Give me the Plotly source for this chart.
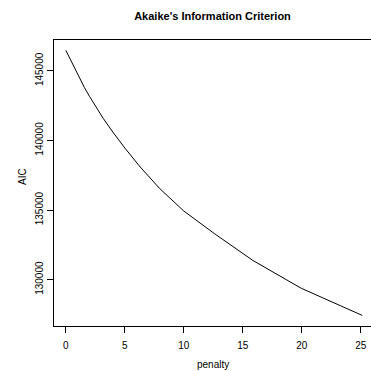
import plotly.graph_objects as go

penalty = [0, 1.0, 1.26, 1.58, 2.0, 2.51, 3.16, 3.98, 5.01, 6.31, 7.94, 10.0, 12.59, 15.85, 19.95, 25.12]
aic = [146480, 144720, 144290, 143800, 143180, 142460, 141600, 140610, 139450, 138090,
       136560, 134930, 133310, 131380, 129380, 127430]

x_ticks = [0, 5, 10, 15, 20, 25]
y_ticks = [130000, 135000, 140000, 145000]

FONT = "Liberation Sans, Arial, Helvetica, sans-serif"

fig = go.Figure()
fig.add_trace(go.Scatter(x=penalty, y=aic, mode="lines",
                         line=dict(color="black", width=1), showlegend=False,
                         hoverinfo="skip"))

fig.update_layout(
    width=371, height=371,
    margin=dict(l=54, r=0, t=40, b=45, autoexpand=False),
    paper_bgcolor="white", plot_bgcolor="white",
    font=dict(family=FONT, size=10, color="black"),
    title=dict(text="<b>Akaike's Information Criterion</b>", x=0.5, xref="paper",
               xanchor="center", y=1 - 16 / 371, yanchor="middle", yref="container",
               font=dict(size=11, family=FONT, color="black")),
    xaxis=dict(range=[-1, 25.86], tickvals=x_ticks, ticktext=[str(v) for v in x_ticks],
               ticks="outside", ticklen=6, tickwidth=1, tickcolor="black",
               showline=True, linecolor="black", linewidth=1, mirror=True,
               showgrid=False, zeroline=False, ticklabelstandoff=4,
               tickfont=dict(size=10, family=FONT, color="black")),
    yaxis=dict(range=[126670, 147220], tickvals=y_ticks, ticktext=[str(v) for v in y_ticks],
               ticks="outside", ticklen=6, tickwidth=1, tickcolor="black",
               showline=True, linecolor="black", linewidth=1, mirror=False,
               showgrid=False, zeroline=False, tickangle=-90,
               tickfont=dict(size=10, family=FONT, color="black")),
    annotations=[
        dict(text="penalty", xref="paper", yref="paper", x=0.5, y=-(365 - 326) / 286,
             xanchor="center", yanchor="middle", showarrow=False,
             font=dict(size=10, family=FONT, color="black")),
        dict(text="AIC", xref="paper", yref="paper", x=-(54 - 22) / 317, y=(326 - 177) / 286,
             xanchor="center", yanchor="middle", showarrow=False, textangle=-90,
             font=dict(size=10, family=FONT, color="black")),
    ],
)

fig.write_html("out.html", config={"displayModeBar": False},
               post_script="document.body.style.margin='0';document.body.style.overflow='hidden';")
